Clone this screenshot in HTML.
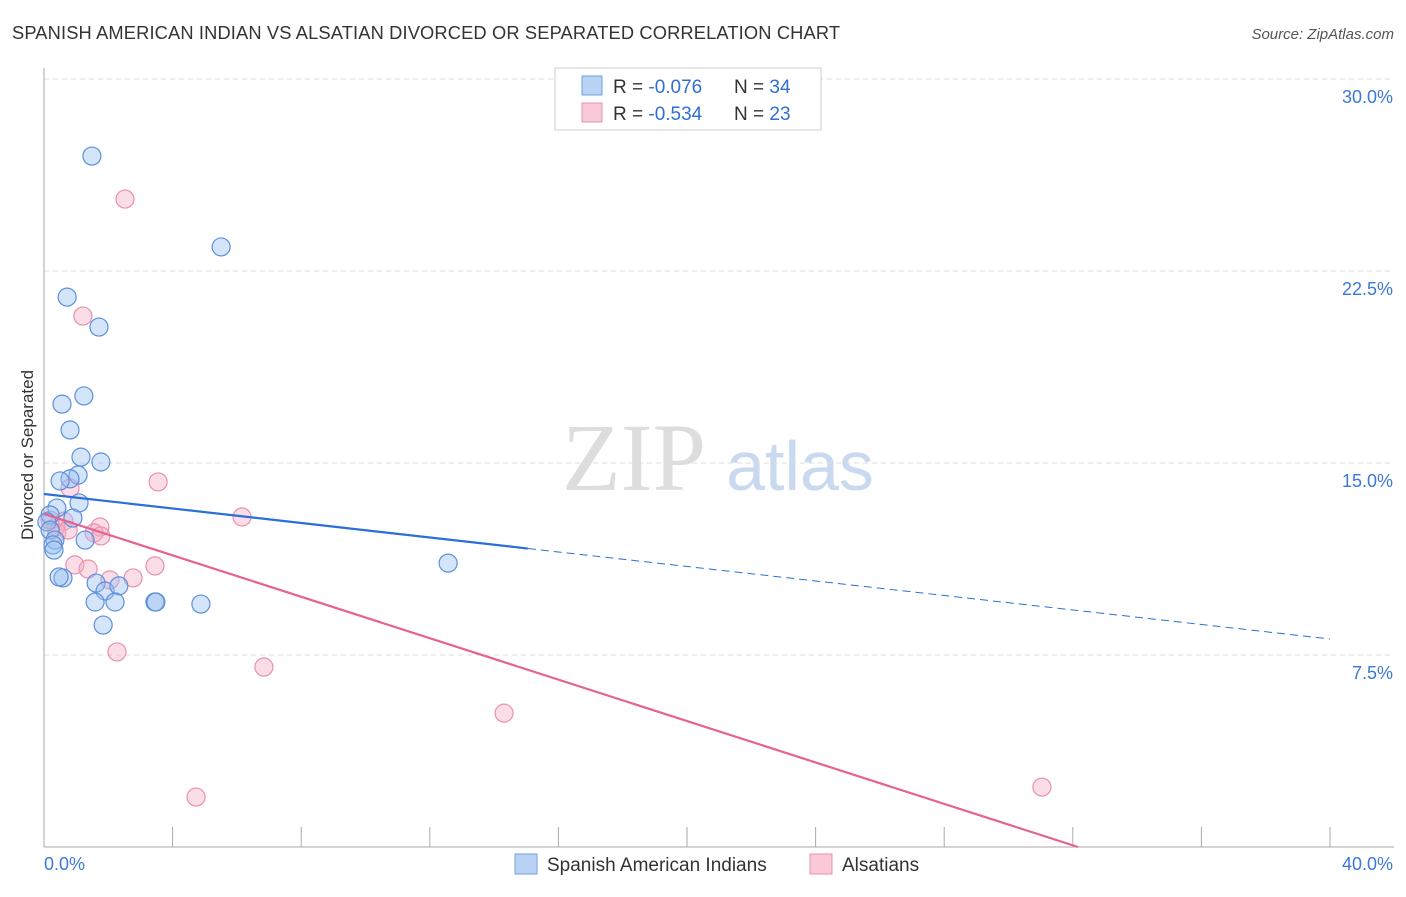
<!DOCTYPE html>
<html><head><meta charset="utf-8"><style>
body{margin:0;background:#fff;font-family:"Liberation Sans",sans-serif}
</style></head><body>
<svg id="c" width="1406" height="892" xmlns="http://www.w3.org/2000/svg">
<text x="12" y="39" font-size="18.3" fill="#333" textLength="828">SPANISH AMERICAN INDIAN VS ALSATIAN DIVORCED OR SEPARATED CORRELATION CHART</text>
<text x="1394" y="39" font-size="15" fill="#555" font-style="italic" text-anchor="end">Source: ZipAtlas.com</text>
<text x="634" y="490" font-size="96" fill="#ddd" font-family="Liberation Serif,serif" text-anchor="middle">ZIP</text>
<text x="800" y="490" font-size="70" fill="#c9d9f0" text-anchor="middle">atlas</text>
<text transform="translate(33,455) rotate(-90)" font-size="17" fill="#333" text-anchor="middle">Divorced or Separated</text>
<g id="grid"></g><g id="pts"></g><g id="lines"></g>
<g>
<rect x="555" y="68" width="266" height="62" fill="#fff" stroke="#ccc"/>
<rect x="582" y="76" width="20" height="19" fill="#b9d3f5" stroke="#6fa0e0"/>
<rect x="582" y="103" width="20" height="19" fill="#f9c9d7" stroke="#ea90ad"/>
<text x="613" y="93" font-size="19" fill="#333">R = <tspan fill="#2f6fd6">-0.076</tspan></text>
<text x="734" y="93" font-size="19" fill="#333">N = <tspan fill="#2f6fd6">34</tspan></text>
<text x="613" y="120" font-size="19" fill="#333">R = <tspan fill="#2f6fd6">-0.534</tspan></text>
<text x="734" y="120" font-size="19" fill="#333">N = <tspan fill="#2f6fd6">23</tspan></text>
</g>
<g>
<rect x="515" y="854" width="22" height="20" fill="#b9d3f5" stroke="#6fa0e0"/>
<text x="547" y="871" font-size="19" fill="#333">Spanish American Indians</text>
<rect x="810" y="854" width="22" height="20" fill="#f9c9d7" stroke="#ea90ad"/>
<text x="842" y="871" font-size="19" fill="#333">Alsatians</text>
</g>
</svg>
<script>
const yTicks=[7.5,15,22.5,30];
const yTickLabels=["7.5%","15.0%","22.5%","30.0%"];
const blueX=[1.49,5.51,0.72,1.71,1.24,0.56,0.81,1.15,1.77,1.06,0.81,0.50,1.09,0.40,0.90,0.19,0.09,0.19,0.34,0.28,0.31,1.28,0.59,0.47,1.62,1.90,2.33,1.59,2.21,3.45,3.48,4.88,1.84,12.57];
const blueY=[26.99,23.44,21.48,20.31,17.62,17.30,16.29,15.23,15.04,14.53,14.38,14.30,13.44,13.24,12.85,12.97,12.70,12.38,11.99,11.80,11.60,11.99,10.51,10.55,10.31,10.00,10.20,9.57,9.57,9.57,9.57,9.49,8.67,11.09];
const pinkX=[2.52,1.21,3.55,6.16,0.81,0.62,0.37,0.40,0.75,1.74,1.56,1.77,0.96,1.37,2.05,2.77,3.45,2.27,6.84,14.31,4.73,31.04,0.19];
const pinkY=[25.31,20.74,14.26,12.89,14.02,12.73,12.50,12.27,12.38,12.50,12.27,12.15,11.02,10.86,10.43,10.51,10.98,7.62,7.03,5.23,1.95,2.34,12.77];
const blueTrend=[13.79,-0.1416]; const blueSolidEnd=15.05;
const pinkTrend=[13.01,-0.4045];
const NS="http://www.w3.org/2000/svg";
const X=v=>44+v/40*1286, Y=v=>847-v*25.6;
function mk(t,a,p){const e=document.createElementNS(NS,t);for(const k in a)e.setAttribute(k,a[k]);p.appendChild(e);return e;}
const g=document.getElementById('grid');
yTicks.forEach((t,i)=>{
 const l=mk('line',{x1:44,x2:1394,y1:Y(t),y2:Y(t),stroke:'#ddd','stroke-dasharray':'5,4'},g);
 
 
 const tx=mk('text',{x:1393,y:Y(t)+24,'font-size':18,fill:'#3b78d8','text-anchor':'end'},g);
 tx.textContent=yTickLabels[i];
 
 
});
mk('line',{x1:44,x2:44,y1:68,y2:847,stroke:'#aaa'},g);
mk('line',{x1:44,x2:1394,y1:847,y2:847,stroke:'#aaa'},g);
for(let i=0;i<=10;i++){const l=mk('line',{x1:X(i*4),x2:X(i*4),y1:827,y2:847,stroke:'#aaa'},g);
 
 }
let t0=mk('text',{x:44,y:870,'font-size':18,fill:'#3b78d8'},g);t0.textContent='0.0%';


let t1=mk('text',{x:1393,y:870,'font-size':18,fill:'#3b78d8','text-anchor':'end'},g);t1.textContent='40.0%';


const p=document.getElementById('pts');
pinkX.forEach((x,i)=>{const c=mk('circle',{cx:X(x),cy:Y(pinkY[i]),r:9,fill:'rgba(246,170,195,0.4)',stroke:'#ea90ad','stroke-width':1.2},p);
 
 });
blueX.forEach((x,i)=>{const c=mk('circle',{cx:X(x),cy:Y(blueY[i]),r:9,fill:'rgba(150,190,240,0.4)',stroke:'#5b8fdc','stroke-width':1.2},p);
 
 });
const L=document.getElementById('lines');
const f=(t,x)=>t[0]+t[1]*x;
let b1=mk('line',{x1:X(0),y1:Y(f(blueTrend,0)),x2:X(blueSolidEnd),y2:Y(f(blueTrend,blueSolidEnd)),stroke:'#2a6fd6','stroke-width':2.2},L);


let b2=mk('line',{x1:X(blueSolidEnd),y1:Y(f(blueTrend,blueSolidEnd)),x2:X(40),y2:Y(f(blueTrend,40)),stroke:'#2a6fd6','stroke-width':1,'stroke-dasharray':'8,5'},L);


const pe=-pinkTrend[0]/pinkTrend[1];
let p1=mk('line',{x1:X(0),y1:Y(f(pinkTrend,0)),x2:X(pe),y2:Y(0),stroke:'#e5638f','stroke-width':2.2},L);


</script>
</body></html>
